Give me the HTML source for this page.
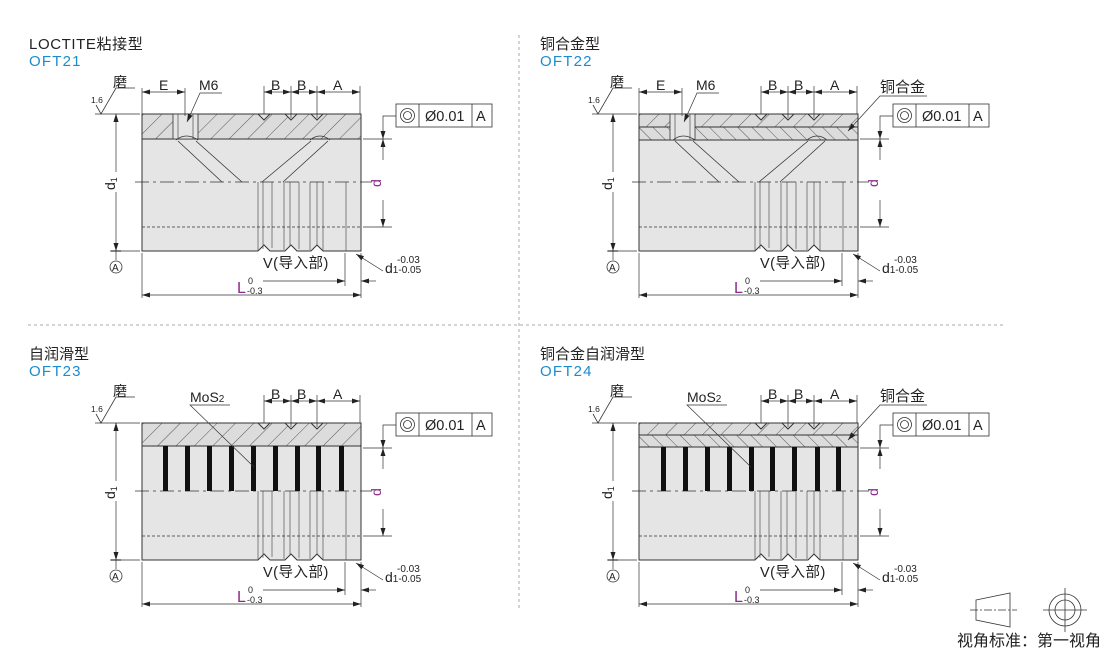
<!DOCTYPE html>
<html><head><meta charset="utf-8"><style>
body{margin:0;background:#fff}
svg{display:block;font-family:"Liberation Sans","Noto Sans CJK SC",sans-serif}
</style></head><body>
<svg width="1110" height="651" viewBox="0 0 1110 651" xmlns="http://www.w3.org/2000/svg">
<defs>
<pattern id="h1" patternUnits="userSpaceOnUse" width="13" height="13" patternTransform="rotate(45)"><rect width="13" height="13" fill="#dcdcdc"/><line x1="0" y1="0" x2="0" y2="13" stroke="#333" stroke-width="0.8"/></pattern>
<pattern id="h2" patternUnits="userSpaceOnUse" width="10" height="10" patternTransform="rotate(-45)"><rect width="10" height="10" fill="#dcdcdc"/><line x1="0" y1="0" x2="0" y2="10" stroke="#333" stroke-width="0.8"/></pattern>
<marker id="ar" markerWidth="8" markerHeight="6" refX="8" refY="3" orient="auto" markerUnits="userSpaceOnUse"><path d="M0,0.5 L8,3 L0,5.5 Z" fill="#222"/></marker>
<g id="base" stroke="#333" stroke-width="1" fill="none">
  <path d="M142,114 H361 V251 H323 L317,245 L311,251 H297 L291,245 L285,251 H270 L264,245 L258,251 H142 Z" fill="#e5e5e5"/>
  <g stroke-width="0.7" stroke="#555">
   <line x1="258" y1="182" x2="258" y2="251"/><line x1="263" y1="182" x2="263" y2="249"/><line x1="272" y1="182" x2="272" y2="248"/>
   <line x1="284" y1="182" x2="284" y2="250"/><line x1="290" y1="182" x2="290" y2="246"/><line x1="299" y1="182" x2="299" y2="249"/>
   <line x1="310" y1="182" x2="310" y2="250"/><line x1="317" y1="182" x2="317" y2="245"/><line x1="323" y1="182" x2="323" y2="251"/>
   <line x1="346" y1="182" x2="346" y2="251"/>
  </g>
  <line x1="135" y1="182" x2="372" y2="182" stroke-dasharray="14,4,3,4" stroke-width="0.8"/>
  <line x1="142" y1="227" x2="361" y2="227" stroke-dasharray="3,2" stroke-width="0.8"/>
  <line x1="95" y1="114" x2="140" y2="114" stroke-width="0.7"/>
  <line x1="110" y1="251" x2="140" y2="251" stroke-width="0.7"/>
  <line x1="116" y1="120" x2="116" y2="114" marker-end="url(#ar)" stroke-width="0.7"/>
  <line x1="116" y1="172" x2="116" y2="114" marker-end="url(#ar)" stroke-width="0.7"/>
  <line x1="116" y1="192" x2="116" y2="251" marker-end="url(#ar)" stroke-width="0.7"/>
  <line x1="116" y1="251" x2="116" y2="260" stroke-width="0.7"/>
  <line x1="111" y1="251" x2="121" y2="251" stroke-width="1.2"/>
  <circle cx="116" cy="267" r="6" stroke-width="0.8"/>
  <polyline points="96,105 101,114 116,88 135,88" stroke-width="0.8"/>
  <g stroke-width="0.7">
   <line x1="264" y1="86" x2="264" y2="114"/><line x1="291" y1="86" x2="291" y2="118"/><line x1="317" y1="86" x2="317" y2="118"/><line x1="360" y1="86" x2="360" y2="114"/>
   <line x1="277" y1="92" x2="264" y2="92" marker-end="url(#ar)"/><line x1="277" y1="92" x2="291" y2="92" marker-end="url(#ar)"/>
   <line x1="304" y1="92" x2="291" y2="92" marker-end="url(#ar)"/><line x1="304" y1="92" x2="317" y2="92" marker-end="url(#ar)"/>
   <line x1="338" y1="92" x2="317" y2="92" marker-end="url(#ar)"/><line x1="338" y1="92" x2="360" y2="92" marker-end="url(#ar)"/>
  </g>
  <rect x="396" y="104" width="96" height="23" stroke-width="0.8" fill="#fff"/>
  <line x1="419" y1="104" x2="419" y2="127" stroke-width="0.8"/><line x1="472" y1="104" x2="472" y2="127" stroke-width="0.8"/>
  <circle cx="407.5" cy="115.5" r="7" stroke-width="0.8"/><circle cx="407.5" cy="115.5" r="4" stroke-width="0.8"/>
  <polyline points="396,116 383,116 383,139" marker-end="url(#ar)" stroke-width="0.7"/>
  <line x1="363" y1="139" x2="392" y2="139" stroke-width="0.7"/><line x1="363" y1="227" x2="392" y2="227" stroke-width="0.7"/>
  <line x1="383" y1="160" x2="383" y2="139" marker-end="url(#ar)" stroke-width="0.7"/>
  <line x1="383" y1="200" x2="383" y2="227" marker-end="url(#ar)" stroke-width="0.7"/>
  <line x1="345" y1="253" x2="345" y2="286" stroke-width="0.7"/>
  <line x1="361" y1="253" x2="361" y2="298" stroke-width="0.7"/>
  <line x1="263" y1="281" x2="345" y2="281" marker-end="url(#ar)" stroke-width="0.7"/>
  <line x1="376" y1="281" x2="361" y2="281" marker-end="url(#ar)" stroke-width="0.7"/>
  <line x1="383" y1="271" x2="356" y2="254" marker-end="url(#ar)" stroke-width="0.7"/>
  <line x1="142" y1="253" x2="142" y2="298" stroke-width="0.7"/>
  <line x1="252" y1="295" x2="142" y2="295" marker-end="url(#ar)" stroke-width="0.7"/>
  <line x1="252" y1="295" x2="361" y2="295" marker-end="url(#ar)" stroke-width="0.7"/>
</g>
<g id="btxt" fill="#222" font-size="14">
  <text x="113" y="87" font-size="14">磨</text>
  <text x="91" y="103" font-size="8.5">1.6</text>
  <text x="271" y="90">B</text><text x="297" y="90">B</text><text x="333" y="90">A</text>
  <text x="425" y="121" font-size="14.5">Ø0.01</text><text x="476" y="121" font-size="14.5">A</text>
  <text x="0" y="0" transform="translate(115,190) rotate(-90)" font-size="14">d<tspan font-size="9" dy="2">1</tspan></text>
  <text x="0" y="0" transform="translate(381,187) rotate(-90)" fill="#8a2a8a" font-size="14">d</text>
  <text x="112" y="271" font-size="10">A</text>
  <text x="263" y="268" font-size="14.5" letter-spacing="0.5">V(导入部)</text>
  <text x="385" y="273" font-size="14">d<tspan font-size="10">1-0.05</tspan></text>
  <text x="397" y="263" font-size="10">-0.03</text>
  <text x="237" y="293" fill="#8a2a8a" font-size="16">L</text>
  <text x="248" y="284" font-size="9">0</text><text x="247" y="294" font-size="9">-0.3</text>
</g>
</defs>

<line x1="519" y1="35" x2="519" y2="610" stroke="#aaa" stroke-dasharray="3,3"/>
<line x1="28" y1="325" x2="1003" y2="325" stroke="#aaa" stroke-dasharray="3,3"/>

<g font-size="15" fill="#222">
<text x="29" y="49" letter-spacing="0.6">LOCTITE粘接型</text><text x="29" y="66" fill="#1a8ccf" letter-spacing="1.2">OFT21</text>
<text x="540" y="49">铜合金型</text><text x="540" y="66" fill="#1a8ccf" letter-spacing="1.2">OFT22</text>
<text x="29" y="359">自润滑型</text><text x="29" y="376" fill="#1a8ccf" letter-spacing="1.2">OFT23</text>
<text x="540" y="359">铜合金自润滑型</text><text x="540" y="376" fill="#1a8ccf" letter-spacing="1.2">OFT24</text>
</g>

<g>
<use href="#base"/><use href="#btxt"/>
<path d="M142,114 H258 L264,120 L270,114 H285 L291,120 L297,114 H311 L317,120 L323,114 H361 V139 H142 Z" fill="url(#h1)" stroke="#333"/>
<rect x="173" y="114" width="25" height="25" fill="#e5e5e5" stroke="#333" stroke-width="0.8"/>
<line x1="178" y1="114" x2="178" y2="139" stroke="#333" stroke-width="0.6"/><line x1="193" y1="114" x2="193" y2="139" stroke="#333" stroke-width="0.6"/>
<g stroke="#333" stroke-width="0.8" fill="none">
 <path d="M176,140 Q186,132 198,140"/>
 <line x1="178" y1="141" x2="222" y2="182"/><line x1="196" y1="141" x2="242" y2="182"/>
 <path d="M310,140 Q320,132 330,140"/>
 <line x1="311" y1="141" x2="262" y2="182"/><line x1="328" y1="141" x2="283" y2="182"/>
 <line x1="142" y1="88" x2="142" y2="114" stroke-width="0.7"/><line x1="185" y1="88" x2="185" y2="116" stroke-width="0.7"/>
 <line x1="163" y1="92" x2="142" y2="92" marker-end="url(#ar)" stroke-width="0.7"/><line x1="163" y1="92" x2="185" y2="92" marker-end="url(#ar)" stroke-width="0.7"/>
 <polyline points="222,93 200,93 187,122" marker-end="url(#ar)" stroke-width="0.7"/>
</g>
<text x="159" y="90" font-size="14" fill="#222">E</text><text x="199" y="90" font-size="14" fill="#222">M6</text>
</g>

<g transform="translate(497,0)">
<use href="#base"/><use href="#btxt"/>
<path d="M142,114 H258 L264,120 L270,114 H285 L291,120 L297,114 H311 L317,120 L323,114 H361 V127 H142 Z" fill="url(#h1)" stroke="#333"/>
<rect x="142" y="127" width="219" height="13" fill="url(#h2)" stroke="#333"/>
<rect x="173" y="114" width="25" height="26" fill="#e5e5e5" stroke="#333" stroke-width="0.8"/>
<line x1="178" y1="114" x2="178" y2="140" stroke="#333" stroke-width="0.6"/><line x1="193" y1="114" x2="193" y2="140" stroke="#333" stroke-width="0.6"/>
<g stroke="#333" stroke-width="0.8" fill="none">
 <path d="M176,140 Q186,132 198,140"/>
 <line x1="178" y1="141" x2="222" y2="182"/><line x1="196" y1="141" x2="242" y2="182"/>
 <path d="M310,140 Q320,132 330,140"/>
 <line x1="311" y1="141" x2="262" y2="182"/><line x1="328" y1="141" x2="283" y2="182"/>
 <line x1="142" y1="88" x2="142" y2="114" stroke-width="0.7"/><line x1="185" y1="88" x2="185" y2="116" stroke-width="0.7"/>
 <line x1="163" y1="92" x2="142" y2="92" marker-end="url(#ar)" stroke-width="0.7"/><line x1="163" y1="92" x2="185" y2="92" marker-end="url(#ar)" stroke-width="0.7"/>
 <polyline points="222,93 200,93 187,122" marker-end="url(#ar)" stroke-width="0.7"/>
 <polyline points="430,96 383,96 351,131" stroke-width="0.7" marker-end="url(#ar)"/>
</g>
<text x="159" y="90" font-size="14" fill="#222">E</text><text x="199" y="90" font-size="14" fill="#222">M6</text>
<text x="383" y="92" font-size="15" fill="#222">铜合金</text>
</g>

<g transform="translate(0,309)">
<use href="#base"/><use href="#btxt"/>
<path d="M142,114 H258 L264,120 L270,114 H285 L291,120 L297,114 H311 L317,120 L323,114 H361 V137 H142 Z" fill="url(#h1)" stroke="#333"/>
<g fill="#111"><rect x="163" y="137" width="5" height="45"/><rect x="185" y="137" width="5" height="45"/><rect x="207" y="137" width="5" height="45"/><rect x="229" y="137" width="5" height="45"/><rect x="251" y="137" width="5" height="45"/><rect x="273" y="137" width="5" height="45"/><rect x="295" y="137" width="5" height="45"/><rect x="316" y="137" width="5" height="45"/><rect x="339" y="137" width="5" height="45"/></g>
<polyline points="230,96 190,96 254,158" stroke="#333" stroke-width="0.7" fill="none"/>
<text x="190" y="93" font-size="14" fill="#222">MoS<tspan font-size="10">2</tspan></text>
</g>

<g transform="translate(497,309)">
<use href="#base"/><use href="#btxt"/>
<path d="M142,114 H258 L264,120 L270,114 H285 L291,120 L297,114 H311 L317,120 L323,114 H361 V126 H142 Z" fill="url(#h1)" stroke="#333"/>
<rect x="142" y="126" width="219" height="12" fill="url(#h2)" stroke="#333"/>
<g fill="#111"><rect x="164" y="138" width="5" height="44"/><rect x="186" y="138" width="5" height="44"/><rect x="208" y="138" width="5" height="44"/><rect x="230" y="138" width="5" height="44"/><rect x="252" y="138" width="5" height="44"/><rect x="273" y="138" width="5" height="44"/><rect x="295" y="138" width="5" height="44"/><rect x="318" y="138" width="5" height="44"/><rect x="339" y="138" width="5" height="44"/></g>
<polyline points="230,96 190,96 254,158" stroke="#333" stroke-width="0.7" fill="none"/>
<text x="190" y="93" font-size="14" fill="#222">MoS<tspan font-size="10">2</tspan></text>
<polyline points="430,96 383,96 351,131" stroke="#333" stroke-width="0.7" fill="none" marker-end="url(#ar)"/>
<text x="383" y="92" font-size="15" fill="#222">铜合金</text>
</g>

<g stroke="#333" stroke-width="0.8" fill="none">
<polygon points="976,600 1010,593 1010,627 976,620"/>
<line x1="970" y1="610" x2="1017" y2="610" stroke-dasharray="8,2,2,2"/>
<circle cx="1065" cy="610" r="16"/><circle cx="1065" cy="610" r="10"/>
<line x1="1043" y1="610" x2="1087" y2="610"/><line x1="1065" y1="588" x2="1065" y2="632"/>
</g>
<text x="957" y="646" font-size="16" fill="#222">视角标准：第一视角</text>
</svg>
</body></html>
